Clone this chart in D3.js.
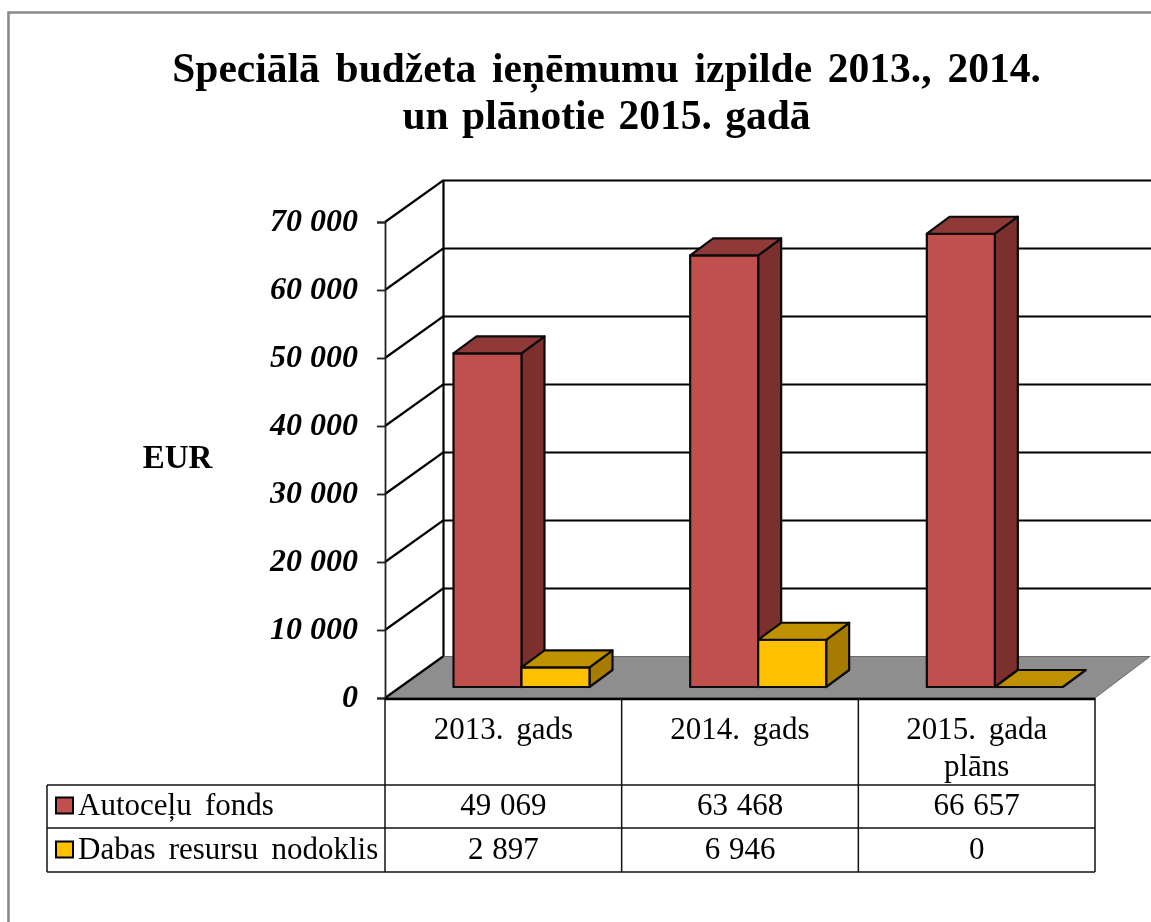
<!DOCTYPE html>
<html><head><meta charset="utf-8">
<script src="https://cdn.jsdelivr.net/npm/d3@7"></script>
<style>html,body{margin:0;padding:0;background:#fff}svg{display:block;filter:blur(0.35px)}text{font-family:"Liberation Serif",serif;fill:#000}</style>
</head><body><svg id="c" width="1151" height="922"></svg>
<script>
const titleLines = ["Speciālā budžeta ieņēmumu izpilde 2013., 2014.", "un plānotie 2015. gadā"];
const titleSpacing = [5.4, 3];
const categories = ["2013. gads", "2014. gads", "2015. gada|plāns"];
const seriesNames = ["Autoceļu fonds", "Dabas resursu nodoklis"];
const autoceluFonds = [49069, 63468, 66657];
const dabasResursi = [2897, 6946, 0];
const tickValues = [0, 10000, 20000, 30000, 40000, 50000, 60000, 70000];
const seriesValues = [autoceluFonds, dabasResursi];
const palette = [
  {front:"#C0504D", top:"#8F3A38", side:"#7B302E"},
  {front:"#FFC000", top:"#BF9000", side:"#A67C00"}
];
const fmt = v => d3.format(",")(v).replace(/,/g, " ");

const svg = d3.select("#c");
const wall = {dx:58, dy:-41.5};
const barDepth = {dx:23, dy:-17};
const y = d3.scaleLinear().domain([0,70000]).range([698,222]);
const x = d3.scaleBand().domain(categories).range([385,1095]).paddingInner(0).paddingOuter(0);
const barW = 68, barOffset = 68.5, barBase = 687;
const h = v => y(0) - y(v);

// frame
svg.append("path").attr("d","M8.5,922V12.5H1151").attr("fill","none").attr("stroke","#8a8a8a").attr("stroke-width",2.6);

// title
svg.selectAll("text.title").data(titleLines).join("text").attr("class","title")
  .attr("x",606.5).attr("y",(d,i)=>[82,129][i]).attr("text-anchor","middle")
  .attr("font-weight","bold").attr("font-size",41.5).attr("word-spacing",(d,i)=>titleSpacing[i]).text(d=>d);

// floor
const floorRight = 1150;
svg.append("path").attr("fill","#8E8E8E").attr("stroke","#555").attr("stroke-width",0.8)
  .attr("d",`M385,${y(0)}L${385+wall.dx},${y(0)+wall.dy}H${floorRight}L1095,${y(0)}Z`);

// walls and gridlines
const g = svg.append("g").attr("stroke","#000").attr("stroke-width",2.2).attr("fill","none");
tickValues.forEach(v=>{
  const p = `M385,${y(v)}L${385+wall.dx},${y(v)+wall.dy}` + (v>0?`H1151`:"");
  g.append("path").attr("d",p);
});
g.append("line").attr("x1",443.5).attr("x2",443.5).attr("y1",y(70000)+wall.dy).attr("y2",y(0)+wall.dy);

// y axis
const axis = d3.axisLeft(y).tickValues(tickValues).tickFormat(fmt).tickSize(8).tickPadding(19);
const ax = svg.append("g").attr("transform","translate(385,0)").call(axis);
ax.selectAll("path,line").attr("stroke","#222").attr("stroke-width",1.8);
ax.selectAll("text").attr("font-family","Liberation Serif").attr("font-size",32)
  .attr("font-weight","bold").attr("font-style","italic").attr("fill","#000").attr("dy","0.28em");

// axis title
svg.append("text").attr("x",177.5).attr("y",468).attr("text-anchor","middle")
  .attr("font-weight","bold").attr("font-size",33).text("EUR");

// bars
categories.forEach((c,i)=>{
  seriesValues.forEach((vals,s)=>{
    const x0 = x(c) + barOffset + s*barW, x1 = x0 + barW;
    const t = barBase - h(vals[i]), b = barBase;
    const d = barDepth, col = palette[s];
    const bar = svg.append("g").attr("stroke","#0a0a0a").attr("stroke-width",2.2).attr("stroke-linejoin","round");
    if (vals[i] > 0) {
      bar.append("path").attr("fill",col.side).attr("d",`M${x1},${t}L${x1+d.dx},${t+d.dy}V${b+d.dy}L${x1},${b}Z`);
      bar.append("rect").attr("fill",col.front).attr("x",x0).attr("y",t).attr("width",barW).attr("height",b-t);
    }
    bar.append("path").attr("fill",col.top).attr("d",`M${x0},${t}L${x0+d.dx},${t+d.dy}H${x1+d.dx}L${x1},${t}Z`);
  });
});

// data table
const rowY = [698,785,828,872], tableLeft = 47, colX = [385,...categories.map(c=>x(c)+x.bandwidth())];
const tb = svg.append("g").attr("stroke","#111").attr("stroke-width",1.5);
colX.forEach((cx,i)=>tb.append("line").attr("x1",cx).attr("x2",cx).attr("y1",698).attr("y2",872));
tb.append("line").attr("x1",tableLeft).attr("x2",tableLeft).attr("y1",785).attr("y2",872);
rowY.slice(1).forEach(ry=>tb.append("line").attr("x1",tableLeft).attr("x2",1095).attr("y1",ry).attr("y2",ry));
svg.append("line").attr("x1",385).attr("x2",1095).attr("y1",699).attr("y2",699).attr("stroke","#000").attr("stroke-width",2.6);

const fs = 31;
categories.forEach(c=>{
  c.split("|").forEach((ln,j)=>{
    svg.append("text").attr("x",x(c)+x.bandwidth()/2).attr("y",739+j*37).attr("text-anchor","middle")
      .attr("font-size",fs).attr("word-spacing",5).text(ln);
  });
});
seriesNames.forEach((name,s)=>{
  const ty = [815,859][s];
  svg.append("rect").attr("x",56).attr("y",[797.5,841.5][s]).attr("width",17).attr("height",16)
    .attr("fill",palette[s].front).attr("stroke","#000").attr("stroke-width",2);
  svg.append("text").attr("x",78).attr("y",ty).attr("font-size",fs).attr("word-spacing",5.5).text(name);
  seriesValues[s].forEach((v,i)=>{
    svg.append("text").attr("x",x(categories[i])+x.bandwidth()/2).attr("y",ty).attr("text-anchor","middle")
      .attr("font-size",fs).attr("word-spacing",1).text(fmt(v));
  });
});
</script></body></html>
